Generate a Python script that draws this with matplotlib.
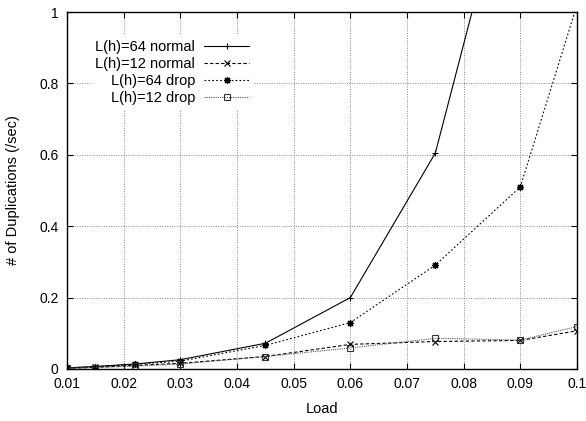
import matplotlib.pyplot as plt

plt.rcParams['font.family'] = ['Liberation Sans', 'DejaVu Sans']

# load values and measured duplication rates
load = [0.01, 0.015, 0.022, 0.03, 0.045, 0.06, 0.075, 0.09, 0.1]
lh64_normal = [0.003, 0.007, 0.014, 0.026, 0.072, 0.2, 0.605, 1.52, 2.4]
lh12_normal = [0.002, 0.005, 0.010, 0.016, 0.035, 0.069, 0.077, 0.08, 0.107]
lh64_drop = [0.003, 0.007, 0.013, 0.022, 0.066, 0.13, 0.291, 0.51, 1.02]
lh12_drop = [0.002, 0.004, 0.008, 0.014, 0.035, 0.059, 0.086, 0.081, 0.119]

xticks = [0.01, 0.02, 0.03, 0.04, 0.05, 0.06, 0.07, 0.08, 0.09, 0.1]
xticklabels = ['0.01', '0.02', '0.03', '0.04', '0.05', '0.06', '0.07', '0.08', '0.09', '0.1']
yticks = [0, 0.2, 0.4, 0.6, 0.8, 1]
yticklabels = ['0', '0.2', '0.4', '0.6', '0.8', '1']

fig = plt.figure(figsize=(5.86, 4.21), dpi=100)
ax = fig.add_axes([67 / 586, 1 - 369 / 421, 510 / 586, 357 / 421])

lw = 0.8
ax.plot(load, lh64_normal, color='black', lw=lw, ls='-', marker='+', ms=5,
        mew=0.8, label='L(h)=64 normal')
ax.plot(load, lh12_normal, color='black', lw=lw, ls=(0, (3, 2)), marker='x', ms=4,
        mew=0.8, label='L(h)=12 normal')
ax.plot(load, lh64_drop, color='black', lw=lw, ls=(0, (1.5, 2)), marker=(8, 2, 0), ms=5,
        mew=0.9, label='L(h)=64 drop')
ax.plot(load, lh12_drop, color='#555555', lw=lw, ls=(0, (1, 1)), marker='s', ms=4.5,
        mew=0.8, mfc='none', mec='#333333', label='L(h)=12 drop')

ax.set_xlim(0.01, 0.1)
ax.set_ylim(0, 1)
ax.set_xticks(xticks)
ax.set_xticklabels(xticklabels)
ax.set_yticks(yticks)
ax.set_yticklabels(yticklabels)
ax.tick_params(direction='in', top=True, right=True, length=4, width=0.8,
               labelsize=10, pad=6)

ax.grid(True, color='#888888', ls=(0, (1, 1.5)), lw=0.7)
for s in ax.spines.values():
    s.set_linewidth(1.0)

ax.set_xlabel('Load', fontsize=10.5, labelpad=8)
ax.set_ylabel('# of Duplications (/sec)', fontsize=10.5, labelpad=14)

leg = ax.legend(loc='upper right', bbox_to_anchor=(0.38, 0.955), markerfirst=False,
                frameon=True, fancybox=False, edgecolor='none', framealpha=1,
                fontsize=10.5, handlelength=3.1, handletextpad=0.6,
                labelspacing=0.22, borderpad=0.3)

fig.savefig('out.png', dpi=100)
